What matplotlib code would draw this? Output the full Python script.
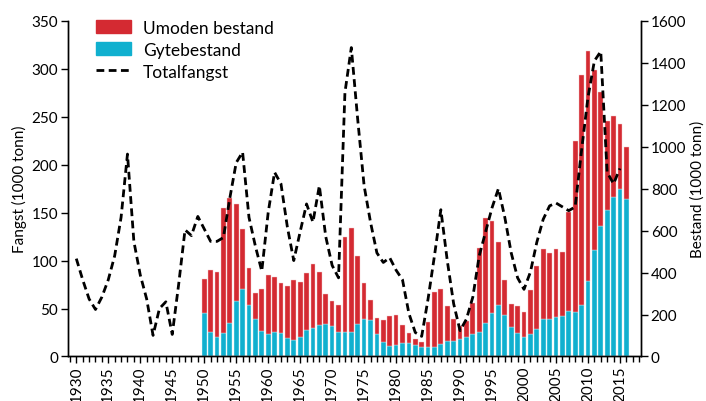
import matplotlib
matplotlib.use("Agg")
import matplotlib.pyplot as plt
from matplotlib.lines import Line2D
from matplotlib.patches import Patch

plt.rcParams['font.family'] = ['Lato', 'DejaVu Sans']

# totalfangst (1000 tonn), 1930-2015
fangst_aar = list(range(1930, 2016))
fangst = [102, 80, 60, 49, 62, 80, 105, 145, 211, 120,
          85, 60, 22, 50, 57, 23, 75, 132, 126, 146,
          133, 120, 120, 124, 165, 202, 213, 145, 115, 89,
          150, 192, 180, 135, 100, 130, 159, 140, 178, 125,
          95, 82, 275, 322, 247, 178, 140, 108, 98, 103,
          90, 80, 45, 25, 21, 60, 105, 153, 100, 55,
          27, 39, 62, 105, 130, 155, 175, 145, 108, 82,
          70, 88, 119, 143, 157, 160, 156, 152, 156, 215,
          270, 308, 318, 192, 180, 196]

# bestand (1000 tonn), 1950-2016
bestand_aar = list(range(1950, 2017))
gytebestand = [205, 116, 94, 114, 161, 266, 323, 247, 180, 122,
               108, 116, 114, 87, 80, 94, 125, 138, 152, 155,
               146, 119, 119, 118, 155, 181, 173, 106, 67, 52,
               53, 66, 62, 53, 47, 44, 44, 61, 72, 75,
               81, 95, 105, 119, 158, 205, 246, 200, 141, 113,
               95, 108, 132, 180, 180, 188, 192, 216, 213, 247,
               358, 507, 624, 700, 761, 798, 751]
umoden = [165, 297, 311, 594, 592, 462, 285, 176, 124, 201,
          282, 265, 237, 251, 286, 261, 274, 303, 252, 142,
          119, 125, 451, 494, 326, 171, 95, 79, 108, 139,
          146, 86, 52, 32, 22, 119, 261, 263, 171, 103,
          63, 75, 152, 399, 504, 443, 300, 165, 110, 126,
          119, 207, 301, 333, 313, 323, 308, 473, 816, 1093,
          1098, 860, 634, 424, 383, 308, 246]

rod = '#d42a32'
bla = '#10b0cf'

fig = plt.figure(figsize=(7.06, 4.02), dpi=100)
ax = fig.add_axes([0.0963, 0.1107, 0.8117, 0.8353])
ax2 = ax.twinx()

ax2.bar(bestand_aar, gytebestand, width=0.74, color=bla, edgecolor='#e8f6fa', linewidth=0.3)
ax2.bar(bestand_aar, umoden, width=0.74, bottom=gytebestand, color=rod,
        edgecolor='#f3c9cb', linewidth=0.3)

ax.plot(fangst_aar, fangst, color='black', lw=2.0, dashes=(2.8, 1.6))
ax.set_zorder(ax2.get_zorder() + 1)
ax.patch.set_visible(False)

ax.set_xlim(1928.7, 2018.3)
ax.set_ylim(0, 350)
ax2.set_ylim(0, 1600)
ax.set_yticks(range(0, 351, 50))
ax2.set_yticks(range(0, 1601, 200))
ax.set_xticks(range(1930, 2016, 5))
ax.set_xticks(range(1929, 2019), minor=True)
ax.set_xticklabels([str(y) for y in range(1930, 2016, 5)], rotation=90)

for a in (ax, ax2):
    a.spines['top'].set_visible(False)
    a.tick_params(direction='out', labelsize=11, length=5, width=1, pad=2)
    a.tick_params(which='minor', direction='out', length=4, width=1)
    for s in a.spines.values():
        s.set_linewidth(1)
ax.tick_params(axis='x', pad=1.5)

ax.set_ylabel('Fangst (1000 tonn)', fontsize=11, labelpad=3)
ax2.set_ylabel('Bestand (1000 tonn)', fontsize=11, rotation=90, labelpad=3)

handles = [Patch(color=rod), Patch(color=bla),
           Line2D([], [], color='black', lw=2.0, dashes=(2.8, 1.6))]
ax.legend(handles, ['Umoden bestand', 'Gytebestand', 'Totalfangst'],
          loc='upper left', bbox_to_anchor=(0.022, 1.05), frameon=False,
          fontsize=12.5, handlelength=2.0, handleheight=0.8, labelspacing=0.35,
          handletextpad=0.7)

fig.savefig('out.png', dpi=100)
